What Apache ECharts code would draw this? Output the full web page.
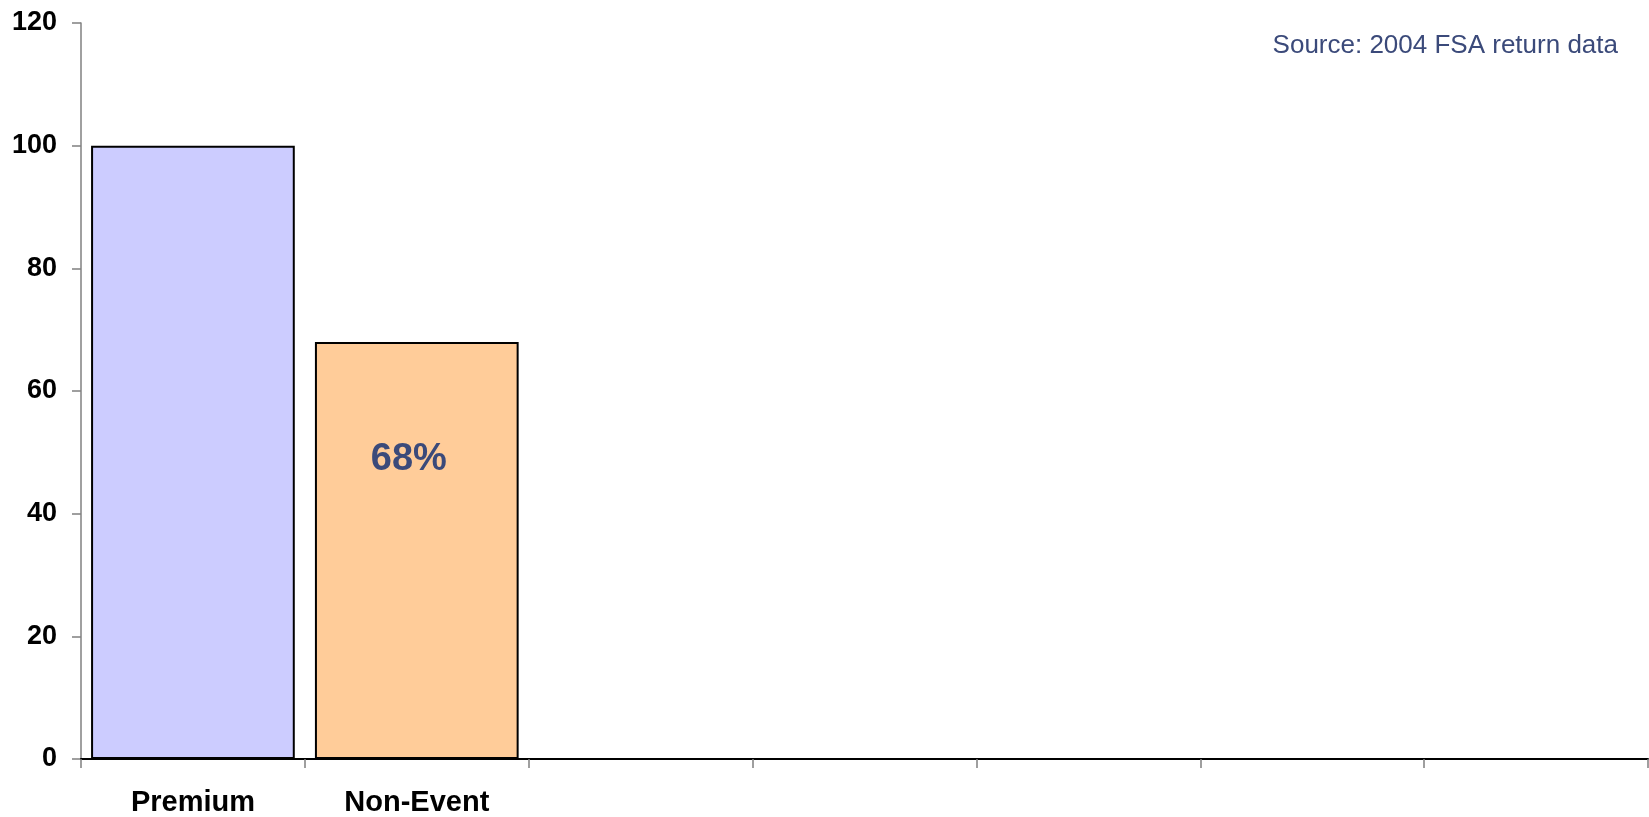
<!DOCTYPE html>
<html>
<head>
<meta charset="utf-8">
<title>Premium vs Non-Event</title>
<script src="https://cdn.jsdelivr.net/npm/echarts@6/dist/echarts.min.js"></script>
<style>
  html, body { margin: 0; padding: 0; background: #ffffff; }
  #chart { width: 1649px; height: 817px; }
</style>
</head>
<body>
<div id="chart"></div>
<script>
// Category slots along the x axis (only the first two are filled)
const categories = ['Premium', 'Non-Event', '', '', '', '', ''];
// Bar heights per category
const values = [100, 68, null, null, null, null, null];
// Fill colour per bar
const barColors = ['#CCCCFF', '#FFCC99'];
// Which bars carry a value label
const showLabel = [false, true];
// Y axis scale
const yMin = 0, yMax = 120, yStep = 20;
const sourceNote = 'Source: 2004 FSA return data';

const font = '"Liberation Sans", Arial, Helvetica, sans-serif';

const seriesData = values.map((v, i) => {
  if (v === null) return null;
  return {
    value: v,
    itemStyle: { color: barColors[i] },
    label: { show: !!showLabel[i] }
  };
});

const chart = echarts.init(document.getElementById('chart'), null, { renderer: 'canvas' });
chart.setOption({
  animation: false,
  backgroundColor: '#ffffff',
  title: {
    text: sourceNote,
    right: 26,
    top: 28,
    textStyle: {
      fontFamily: font,
      fontSize: 26,
      fontWeight: 'normal',
      color: '#3B4A7A'
    }
  },
  grid: { left: 81, right: 1, top: 23, bottom: 58, containLabel: false },
  xAxis: {
    type: 'category',
    data: categories,
    boundaryGap: true,
    axisLine: { show: true, lineStyle: { color: '#000000', width: 2 } },
    axisTick: { show: true, length: 9, alignWithLabel: false, lineStyle: { color: '#808080', width: 1.5 } },
    axisLabel: {
      margin: 29,
      interval: 0,
      fontFamily: font,
      fontSize: 29,
      fontWeight: 'bold',
      color: '#000000'
    },
    splitLine: { show: false },
    z: 3
  },
  yAxis: {
    type: 'value',
    min: yMin,
    max: yMax,
    interval: yStep,
    axisLine: { show: true, lineStyle: { color: '#808080', width: 1.5 } },
    axisTick: { show: true, length: 9, lineStyle: { color: '#808080', width: 1.5 } },
    axisLabel: {
      margin: 24,
      fontFamily: font,
      fontSize: 27,
      fontWeight: 'bold',
      color: '#000000'
    },
    splitLine: { show: false }
  },
  series: [{
    type: 'bar',
    data: seriesData,
    barCategoryGap: '9%',
    itemStyle: { borderColor: '#000000', borderWidth: 2 },
    label: {
      show: false,
      position: 'insideTop',
      distance: 99,
      offset: [-8, 0],
      formatter: '{c}%',
      fontFamily: font,
      fontSize: 38,
      fontWeight: 'bold',
      color: '#3B4A7A'
    }
  }]
});
</script>
</body>
</html>
